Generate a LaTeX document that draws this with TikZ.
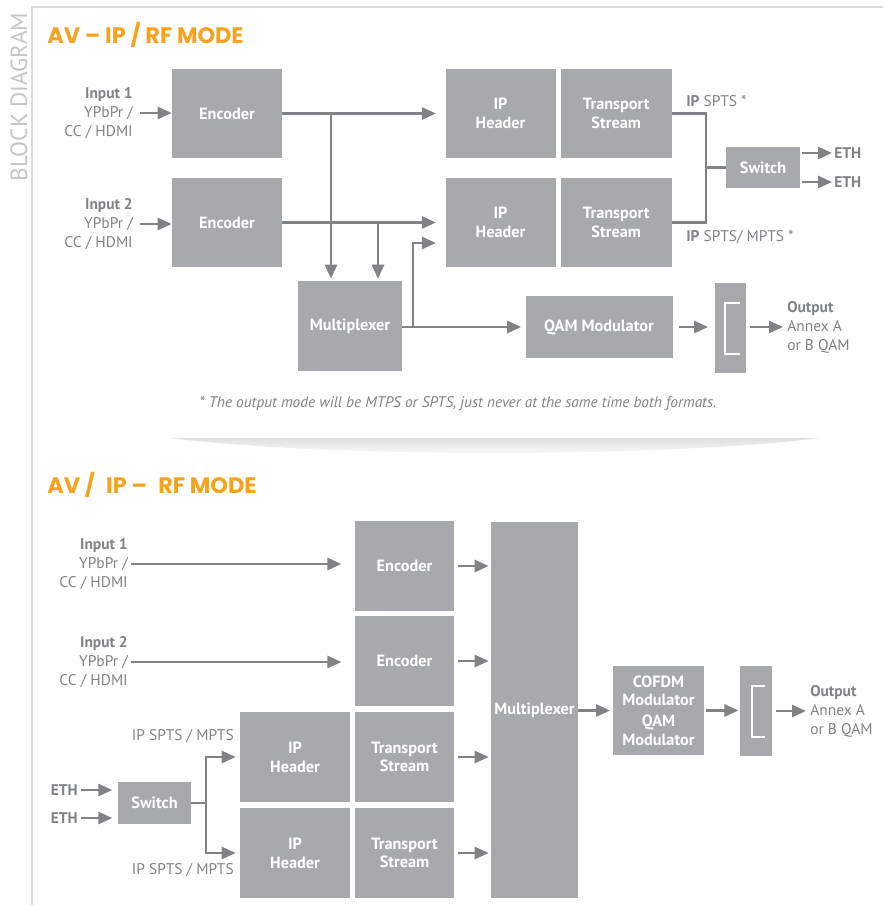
\documentclass[tikz,border=0pt]{standalone}
\usepackage{fontspec}
\setmainfont{PT Sans}
\newfontfamily\titlefont{Poppins}
\usetikzlibrary{arrows.meta, positioning, calc}
\definecolor{boxGray}{HTML}{A7A9AC}
\definecolor{lineGray}{HTML}{808285}
\definecolor{textGray}{HTML}{808285}
\definecolor{frameGray}{HTML}{DCDCDC}
\definecolor{sideGray}{HTML}{C4C5C7}
\definecolor{titleOrange}{HTML}{F6A21D}
\tikzset{
  block/.style={fill=boxGray, text=white, font=\bfseries\fontsize{12.2}{14}\selectfont, align=center, inner sep=0pt},
  dims/.style 2 args={minimum width=#1*0.75pt, minimum height=#2*0.75pt},
  label/.style={text=textGray, font=\fontsize{11.6}{14.2}\selectfont, inner sep=0pt},
  labelbold/.style={label, font=\bfseries\fontsize{11.6}{14.2}\selectfont},
  flow/.style={draw=lineGray, line width=2pt, -{Triangle[length=10.5pt, width=9pt]}},
  wire/.style={draw=lineGray, line width=2pt},
  plug/.style={draw=white, line width=1.5pt},
  heading/.style={text=titleOrange, font=\titlefont\bfseries\fontsize{16.8}{18}\selectfont, anchor=west, inner sep=0pt},
}
\begin{document}
\begin{tikzpicture}[x=0.75pt, y=-0.75pt]
\useasboundingbox (0,0) rectangle (883,905);
% frame
\draw[frameGray, line width=1.5pt] (32,905) -- (32,7) -- (883,7);
\node[rotate=90, text=sideGray, font=\fontsize{17.5}{17.5}\selectfont, inner sep=0pt] (side) at (19,97) {BLOCK DIAGRAM};

% AV - IP / RF mode
\node[heading] (title1) at (47,35) {AV – IP / RF MODE};
\node[block, dims={110}{89}] (enc1) at (227,113.5) {Encoder};
\node[block, dims={110}{89}] (enc2) at (227,222.5) {Encoder};
\node[block, dims={110}{89}] (iph1) at (500.5,113.5) {IP\\Header};
\node[block, dims={111}{89}, right=3.5pt of iph1] (ts1) {Transport\\Stream};
\node[block, dims={110}{89}] (iph2) at (500.5,222.5) {IP\\Header};
\node[block, dims={111}{89}, right=3.5pt of iph2] (ts2) {Transport\\Stream};
\node[block, dims={74}{41}] (sw1) at (763,167.5) {Switch};
\node[block, dims={104}{90}] (mux1) at (350,326) {Multiplexer};
\node[block, dims={147}{62}] (qam) at (599,327) {QAM Modulator};
\node[block, dims={31}{90}] (conn1) at (730.5,328) {};
\draw[plug] ([shift={(9,-25)}]conn1.center) -- ++(-15,0) -- ++(0,51) -- ++(15,0);

\node[label, align=right, anchor=east] (in1) at (133,113) {\textbf{Input 1}\\YPbPr /\\CC / HDMI};
\node[label, align=right, anchor=east] (in2) at (133,224) {\textbf{Input 2}\\YPbPr /\\CC / HDMI};
\node[label, align=left, anchor=west] (out1) at (787,327) {\textbf{Output}\\Annex A\\or B QAM};
\node[labelbold, anchor=west] (eth1) at (834,153) {ETH};
\node[labelbold, anchor=west] (eth2) at (834,182) {ETH};
\node[label, anchor=west] (ipl1) at (686,101) {\textbf{IP} SPTS *};
\node[label, anchor=west] (ipl2) at (686,237) {\textbf{IP} SPTS/ MPTS *};

\draw[flow, shorten <=5pt] (in1.east) -- (in1.east -| enc1.west);
\draw[flow, shorten <=5pt] (in2.east) -- (in2.east -| enc2.west);
\draw[flow, shorten >=7pt] (enc1.east) -- (iph1.west);
\draw[flow, shorten >=7pt] (enc2.east) -- (iph2.west);
\coordinate (ja) at (331,113.5);
\coordinate (jb) at (378,222.5);
\coordinate (jc) at (413,327);
\draw[flow, shorten >=1.5pt] (ja) -- (ja |- mux1.north);
\draw[flow, shorten >=1.5pt] (jb) -- (jb |- mux1.north);
\draw[flow, shorten >=3pt] (mux1.east |- qam.west) -- (qam.west);
\draw[flow, shorten >=7pt] (jc) |- ($(iph2.west)+(0,20.5)$);
\draw[flow, shorten <=5pt, shorten >=5pt] (qam.east) -- (qam.east -| conn1.west);
\draw[flow, shorten <=3pt, shorten >=3pt] (conn1.east |- out1.west) -- (out1.west);
\coordinate (jsw) at (706,167.5);
\draw[wire] (ts1.east) -| (jsw) |- (ts2.east);
\draw[wire] (jsw) -- (sw1.west);
\foreach \e in {eth1,eth2}
  \draw[flow, shorten <=1.5pt, shorten >=1.5pt] (sw1.east |- \e.west) -- (\e.west);

\node[label, font=\itshape\fontsize{11.5}{13}\selectfont] (note) at (458,404) {* The output mode will be MTPS or SPTS, just never at the same time both formats.};
\shade[top color=black!12, bottom color=white] (170,438) .. controls (330,458) and (660,458) .. (820,438) -- cycle;

% AV / IP - RF mode
\node[heading] (title2) at (47,485) {AV /\enspace IP –\enspace RF MODE};
\node[block, dims={99}{90}] (encb1) at (404.5,566) {Encoder};
\node[block, dims={99}{90}] (encb2) at (404.5,661) {Encoder};
\node[block, dims={110}{90}] (iphb1) at (295,757) {IP\\Header};
\node[block, dims={99}{90}] (tsb1) at (404.5,757) {Transport\\Stream};
\node[block, dims={110}{90}] (iphb2) at (295,853) {IP\\Header};
\node[block, dims={99}{90}] (tsb2) at (404.5,853) {Transport\\Stream};
\node[block, dims={87}{376}] (muxb) at (534.5,710) {Multiplexer};
\node[block, dims={91}{89}] (cof) at (658.5,710.5) {COFDM\\Modulator\\[1.5pt]QAM\\Modulator};
\node[block, dims={32}{90}] (connb) at (756,711) {};
\draw[plug] ([shift={(9,-25)}]connb.center) -- ++(-13,0) -- ++(0,51) -- ++(13,0);
\node[block, dims={73}{42}] (swb) at (154.5,803) {Switch};

\node[label, align=right, anchor=east] (in3) at (128,564) {\textbf{Input 1}\\YPbPr /\\CC / HDMI};
\node[label, align=right, anchor=east] (in4) at (128,662) {\textbf{Input 2}\\YPbPr /\\CC / HDMI};
\node[label, align=left, anchor=west] (out2) at (810,711) {\textbf{Output}\\Annex A\\or B QAM};
\node[labelbold, anchor=east] (ethb1) at (78,790) {ETH};
\node[labelbold, anchor=east] (ethb2) at (78,818) {ETH};
\node[label, anchor=east] (ipl3) at (234,736) {IP SPTS / MPTS};
\node[label, anchor=east] (ipl4) at (234,870) {IP SPTS / MPTS};

\draw[flow, shorten <=2pt, shorten >=10pt] (in3.east) -- (in3.east -| encb1.west);
\draw[flow, shorten <=2pt, shorten >=10pt] (in4.east) -- (in4.east -| encb2.west);
\foreach \b in {encb1,encb2,tsb1,tsb2}
  \draw[flow, shorten <=3pt, shorten >=1.5pt] (\b.east) -- (\b.east -| muxb.west);
\foreach \e in {ethb1,ethb2}
  \draw[flow, shorten <=2pt, shorten >=4pt] (\e.east) -- (\e.east -| swb.west);
\coordinate (jd) at (206,803);
\draw[wire] (swb.east) -- (jd);
\draw[flow, shorten >=3pt] (jd) |- (iphb1.west);
\draw[flow, shorten >=3pt] (jd) |- (iphb2.west);
\draw[flow, shorten >=2pt] (muxb.east |- cof.west) -- (cof.west);
\draw[flow, shorten <=1pt, shorten >=1pt] (cof.east) -- (cof.east -| connb.west);
\draw[flow, shorten <=3pt, shorten >=3pt] (connb.east |- out2.west) -- (out2.west);
\end{tikzpicture}
\end{document}
